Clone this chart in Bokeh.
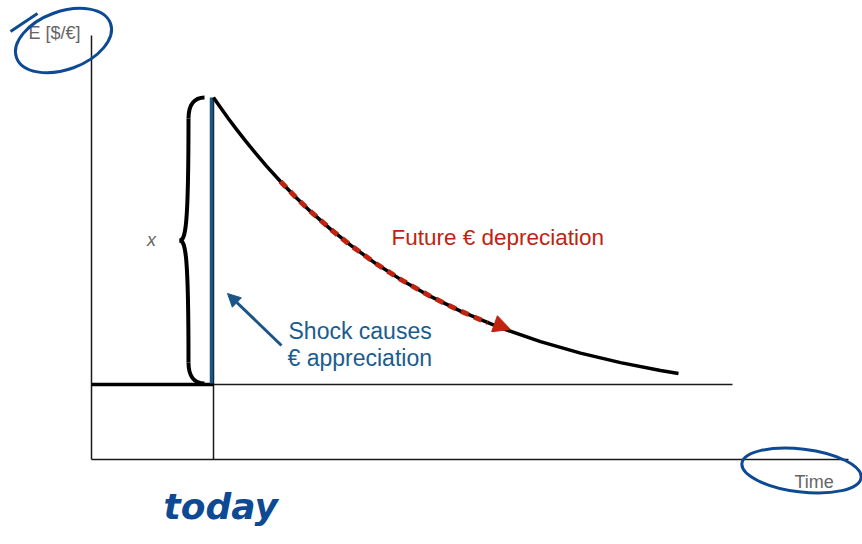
from bokeh.plotting import figure
from bokeh.models import Range1d, Arrow, NormalHead
from bokeh.core.properties import value
from bokeh.embed import file_html
from bokeh.resources import INLINE

# ---- schematic values (time t, exchange rate E) ----
today_t = 12.2
jump_t = 12.0
old_level = 7.5
peak_level = 36.2
axis_t_max = 75.7
axis_E_max = 42.4
long_run_t_end = 64.1

curve_t = [12.2, 12.9, 13.7, 14.5, 15.4, 16.4, 17.5, 18.9, 20.4, 21.9, 23.9, 25.9, 28.4,
           30.9, 33.9, 36.9, 40.9, 44.9, 48.9, 52.9, 56.9, 58.7]
curve_E = [36.2, 35.19, 34.08, 33.01, 31.86, 30.63, 29.34, 27.80, 26.25, 24.81, 23.04, 21.43,
           19.62, 18.01, 16.31, 14.84, 13.17, 11.79, 10.64, 9.69, 8.90, 8.60]

dep_t = [18.9, 20.4, 21.9, 23.9, 25.9, 28.4, 30.9, 33.9, 36.9, 39.6]
dep_E = [27.80, 26.25, 24.81, 23.04, 21.43, 19.62, 18.01, 16.31, 14.84, 13.68]
dep_head_start = (39.0, 14.05)
dep_head_end = (41.9, 13.0)

shock_arrow_start = (19.0, 11.4)
shock_arrow_end = (13.6, 16.6)

# brace (4 bezier pieces)
brace_x0 = [11.3, 9.7, 8.8, 9.7]
brace_y0 = [36.2, 34.1, 21.9, 9.7]
brace_x1 = [9.7, 8.8, 9.7, 11.3]
brace_y1 = [34.1, 21.9, 9.7, 7.6]
brace_cx0 = [10.3, 9.7, 9.4, 9.7]
brace_cy0 = [36.2, 23.1, 21.9, 8.3]
brace_cx1 = [9.7, 9.4, 9.7, 10.3]
brace_cy1 = [35.5, 21.9, 20.7, 7.6]

# hand-drawn highlight loops
loop_x = [-2.8, 71.0]
loop_y = [41.9, -1.1]
loop_w = [10.0, 12.0]
loop_h = [5.8, 4.3]
loop_angle = [0.35, -0.12]

BLACK = "#000000"
AXIS = "#1a1a1a"
RED = "#c0230f"
BLUE_TXT = "#1b5c8f"
BLUE_LINE = "#1a5585"
PEN = "#0e4a94"
GREY = "#666666"
FONT = value("Liberation Sans")

p = figure(width=862, height=544,
           x_range=Range1d(-9.1, 77.1), y_range=Range1d(-8.5, 45.9),
           x_axis_location=None, y_axis_location=None,
           output_backend="svg", toolbar_location=None, min_border=0)
p.grid.visible = False
p.outline_line_color = None
p.background_fill_color = "white"

# axes
p.segment(x0=[0, 0], y0=[0, 0], x1=[0, axis_t_max], y1=[axis_E_max, 0],
          line_color=AXIS, line_width=1.5)
# today line
p.segment(x0=[today_t], y0=[0], x1=[today_t], y1=[peak_level],
          line_color=AXIS, line_width=1.5)
# long-run level
p.segment(x0=[today_t], y0=[old_level], x1=[long_run_t_end], y1=[old_level],
          line_color=AXIS, line_width=1.5)
# old level (thick)
p.segment(x0=[0], y0=[old_level], x1=[today_t], y1=[old_level],
          line_color=BLACK, line_width=3.5)
# jump
p.segment(x0=[jump_t], y0=[old_level + 0.1], x1=[jump_t], y1=[peak_level],
          line_color=BLUE_LINE, line_width=3.5)

# decay curve
p.line(curve_t, curve_E, line_color=BLACK, line_width=3.5, line_join="round")
# depreciation dashed arrow
p.line(dep_t, dep_E, line_color=RED, line_width=5, line_dash="8 6")
p.add_layout(Arrow(end=NormalHead(size=17, fill_color=RED, line_color=RED),
                   x_start=dep_head_start[0], y_start=dep_head_start[1],
                   x_end=dep_head_end[0], y_end=dep_head_end[1],
                   line_alpha=0, line_width=0))

# shock arrow
p.add_layout(Arrow(end=NormalHead(size=13, fill_color=BLUE_LINE, line_color=BLUE_LINE),
                   x_start=shock_arrow_start[0], y_start=shock_arrow_start[1],
                   x_end=shock_arrow_end[0], y_end=shock_arrow_end[1],
                   line_color=BLUE_LINE, line_width=3))

# brace
p.bezier(x0=brace_x0, y0=brace_y0, x1=brace_x1, y1=brace_y1,
         cx0=brace_cx0, cy0=brace_cy0, cx1=brace_cx1, cy1=brace_cy1,
         line_color=BLACK, line_width=4)

# texts
p.text(x=[-6.3], y=[42.7], text=["E [$/€]"], text_font=FONT, text_font_size="18px",
       text_color=GREY, text_baseline="alphabetic")
p.text(x=[70.3], y=[-2.2], text=["Time"], text_font=FONT, text_font_size="18px",
       text_color=GREY, text_baseline="alphabetic")
p.text(x=[6.0], y=[22.0], text=["x"], text_font=FONT, text_font_size="18px",
       text_font_style="italic", text_color=GREY, text_baseline="alphabetic",
       text_align="center")
p.text(x=[30.0], y=[22.2], text=["Future € depreciation"], text_font=FONT,
       text_font_size="22.5px", text_color=RED, text_baseline="alphabetic")
p.text(x=[19.7, 19.6], y=[12.9, 10.2], text=["Shock causes", "€ appreciation"],
       text_font=FONT, text_font_size="23px", text_color=BLUE_TXT,
       text_baseline="alphabetic")
p.text(x=[7.2], y=[-4.7], text=["today"], text_font=value("DejaVu Sans"),
       text_font_size="36px", text_font_style="bold italic", text_color=PEN,
       text_baseline="alphabetic")

# hand-drawn loops
p.ellipse(x=loop_x, y=loop_y, width=loop_w, height=loop_h, angle=loop_angle,
          fill_alpha=0, line_color=PEN, line_width=3)
p.segment(x0=[-8.1], y0=[42.8], x1=[-5.4], y1=[44.6], line_color=PEN, line_width=3)

open("out.html", "w").write(file_html(p, INLINE))
